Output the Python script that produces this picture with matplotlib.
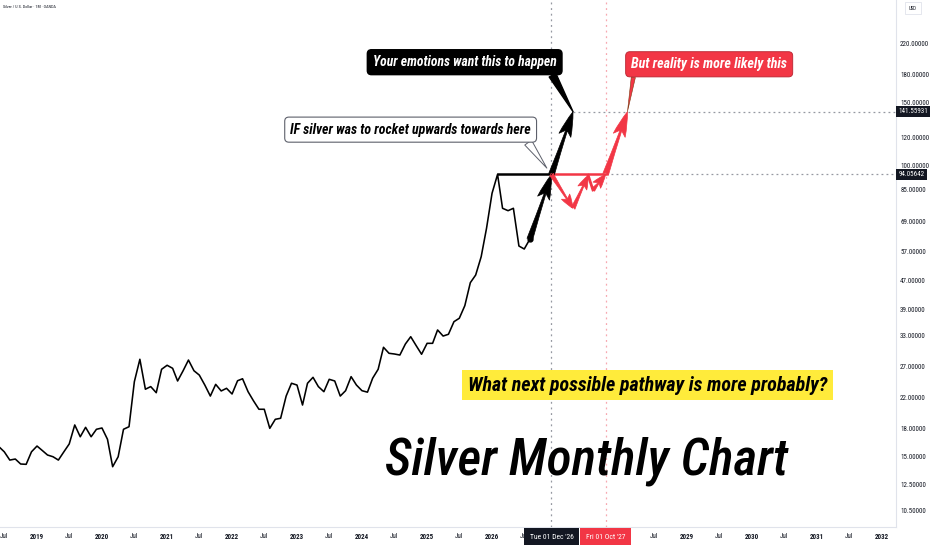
import numpy as np
import pandas as pd
import matplotlib
matplotlib.use('Agg')
import matplotlib.pyplot as plt
import matplotlib.dates as mdates
from matplotlib import font_manager as fm
from matplotlib.patches import FancyArrowPatch
from matplotlib.text import Text
from matplotlib.ticker import NullLocator
from matplotlib.transforms import blended_transform_factory

# monthly closes, Jun 2018 .. Aug 2026
months = pd.date_range('2018-06-01', periods=99, freq='MS')
price = [
    15.96, 15.44, 14.63, 14.73, 14.26, 14.23, 15.44,
    16.03, 15.55, 15.12, 14.95, 14.63, 15.44, 16.25, 18.39, 17.03, 18.11, 17.03, 17.88,
    18.03, 16.75, 14.01, 14.95, 17.88, 18.18, 24.38, 28.21, 23.21, 23.61, 22.69, 26.43,
    27.13, 26.60, 24.49, 26.18, 28.07, 26.18, 25.45, 23.85, 22.20, 23.96, 22.95, 23.35,
    22.50, 24.53, 24.85, 22.84, 21.54, 20.37, 20.37, 17.99, 19.08, 19.21, 22.20, 24.13,
    23.85, 20.94, 24.13, 25.08, 23.61, 22.84, 24.76, 24.49, 22.20, 22.99, 25.19, 23.85,
    22.99, 22.77, 24.93, 26.43, 30.50, 29.33, 29.20, 29.00, 31.16, 32.68, 30.81, 29.15,
    31.30, 31.30, 34.15, 32.82, 33.20, 36.04, 36.85, 40.00, 46.47, 48.84, 55.04, 66.22,
    83.18, 94.06, 75.44, 74.27, 75.44, 59.00, 57.86, 61.65,
]

peak = 94.05642
target = 141.55931
dec26 = pd.Timestamp('2026-12-01')
oct27 = pd.Timestamp('2027-10-01')

emotion_dates = pd.to_datetime(['2026-12-01', '2027-04-01'])
emotion_vals = [peak, target]
reality_dates = pd.to_datetime(['2026-12-01', '2027-04-01', '2027-06-25',
                                '2027-07-22', '2027-10-01', '2028-02-01'])
reality_vals = [peak, 75.4, 93.5, 85.0, peak, target]

ytick_vals = [10.5, 12.5, 15, 18, 22, 27, 33, 39, 47, 57, 69, 85, 100, 120, 150, 180, 220]
# 2027, Jul 2027 and 2028 sit under the date boxes, so they are left out
xtick_dates = [d for d in pd.date_range('2018-07-01', '2032-01-01', freq='6MS')
               if not pd.Timestamp('2026-12-31') < d < pd.Timestamp('2028-06-01')]
xtick_labels = ['Jul' if d.month == 7 else str(d.year) for d in xtick_dates]

RED = '#F23645'
INK = '#131722'

# pick a narrow font if there is one
ttf = fm.fontManager.ttflist
names = {f.name for f in ttf}
NARROW, STRETCH = 'DejaVu Sans', 'normal'
for cand in ['Noto Sans Condensed', 'Liberation Sans Narrow', 'Roboto Condensed', 'Open Sans Condensed']:
    if cand in names:
        NARROW = cand
        break
else:
    if any(f.name == 'DejaVu Sans' and f.stretch == 'condensed' for f in ttf):
        STRETCH = 'condensed'
FONT = dict(family=NARROW, fontstretch=STRETCH)
# title wants a medium weight if the narrow family has one
TITLE_FONT = dict(FONT, fontweight='bold')
if NARROW + ' Medium' in names:
    TITLE_FONT = dict(FONT, family=NARROW + ' Medium', fontweight='normal')
elif any(f.name == NARROW and f.weight in (500, 600, 'medium', 'semibold') for f in ttf):
    TITLE_FONT = dict(FONT, fontweight='medium')

fig = plt.figure(figsize=(9.32, 5.5), dpi=100)
ax = fig.add_axes([0, 23 / 550, 896 / 932, 527 / 550])
r = fig.canvas.get_renderer()


def fit(t, width_px):
    w = Text.get_window_extent(t, renderer=r).width
    t.set_fontsize(t.get_fontsize() * width_px / w)


probe = fig.text(0, 0, '220.00000', fontsize=10, **FONT)
tick_fs = 10 * 29 / Text.get_window_extent(probe, renderer=r).width
probe.remove()

ax.set_yscale('log')
ax.set_ylim(9.46, 293)
ax.set_xlim(pd.Timestamp('2018-06-07'), pd.Timestamp('2032-03-20'))

ax.plot(months, price, color='black', lw=1.15, zorder=4)
ax.plot(months[-1], price[-1], 'o', ms=3.5, color='black', zorder=5)

# reference lines
ipk = int(np.argmax(price))
ax.plot([months[ipk], dec26], [peak, peak], color='black', lw=1.8, zorder=4)
ax.plot([dec26, oct27], [peak, peak], color=RED, lw=1.8, zorder=4)
ax.axvline(dec26, color='#9598a1', ls=(0, (1.5, 3)), lw=0.9, zorder=1)
ax.axvline(oct27, color='#f7a8b0', ls=(0, (1.5, 3)), lw=0.9, zorder=1)
ax.hlines(target, emotion_dates[-1], ax.get_xlim()[1], color='#9598a1', ls=(0, (1.5, 2.5)), lw=0.9)
ax.hlines(peak, oct27, ax.get_xlim()[1], color='#9598a1', ls=(0, (1.5, 2.5)), lw=0.9)


def arrow(d0, v0, d1, v1, color, hl, hw, tw, style='fancy'):
    p = FancyArrowPatch((mdates.date2num(d0), v0), (mdates.date2num(d1), v1),
                        arrowstyle=f'{style},head_length={hl},head_width={hw},tail_width={tw}',
                        mutation_scale=1, color=color, lw=0.5, shrinkA=0, shrinkB=0, zorder=6)
    ax.add_patch(p)


arrow(months[-1], price[-1], dec26, peak, 'black', 18, 9, 4.2)
arrow(emotion_dates[0], emotion_vals[0], emotion_dates[1], emotion_vals[1], 'black', 18, 9, 4.2)
for i in range(len(reality_dates) - 1):
    big = i == len(reality_dates) - 2
    if i == 2:
        ax.plot(reality_dates[i:i + 2], reality_vals[i:i + 2], color=RED, lw=2, zorder=6)
        continue
    arrow(reality_dates[i], reality_vals[i], reality_dates[i + 1], reality_vals[i + 1], RED,
          18 if big else 10, 9 if big else 7, 4.2 if big else 3)

# callouts
t1 = ax.annotate('Your emotions want this to happen', xy=(emotion_dates[1], target),
                 xytext=(0.5186, 0.882), textcoords='axes fraction', ha='center', va='center',
                 color='white', fontsize=11, fontweight='bold', style='italic', **FONT,
                 bbox=dict(boxstyle='round,pad=0.4,rounding_size=0.3', fc='black', ec='black'),
                 arrowprops=dict(arrowstyle='wedge,tail_width=0.55,shrink_factor=0.5', fc='black',
                                 ec='black', relpos=(0.96, 0), shrinkA=0, shrinkB=0, mutation_scale=10),
                 zorder=8)
t2 = ax.annotate('But reality is more likely this', xy=(reality_dates[-1], target),
                 xytext=(0.7915, 0.878), textcoords='axes fraction', ha='center', va='center',
                 color='white', fontsize=11, fontweight='bold', style='italic', **FONT,
                 bbox=dict(boxstyle='round,pad=0.4,rounding_size=0.3', fc=RED, ec='#b8232f', lw=0.6),
                 arrowprops=dict(arrowstyle='wedge,tail_width=0.3,shrink_factor=0.5', fc=RED,
                                 ec='#7a3a10', lw=0.4, relpos=(0.02, 0), shrinkA=0, shrinkB=0,
                                 mutation_scale=10),
                 zorder=8)
t3 = ax.annotate('IF silver was to rocket upwards towards here', xy=(pd.Timestamp('2026-11-05'), 98),
                 xytext=(0.4583, 0.754), textcoords='axes fraction', ha='center', va='center',
                 color='black', fontsize=11, fontweight='bold', style='italic', **FONT,
                 bbox=dict(boxstyle='round,pad=0.4,rounding_size=0.3', fc='white', ec='#5d606b', lw=0.8),
                 arrowprops=dict(arrowstyle='wedge,tail_width=0.6,shrink_factor=0.5', fc='white',
                                 ec='#5d606b', lw=0.7, relpos=(0.97, 0), shrinkA=0, shrinkB=0,
                                 mutation_scale=10),
                 zorder=8)
fit(t1, 184)
fit(t2, 156)
fit(t3, 240)

q = ax.text(0.723, 0.2694, 'What next possible pathway is more probably?', transform=ax.transAxes,
            ha='center', va='center', fontsize=15, fontweight='bold', style='italic', **FONT,
            bbox=dict(boxstyle='square,pad=0.28', fc='#FFEB3B', ec='none'), zorder=8)
fit(q, 362)

title = ax.text(0.6546, 0.0987, 'Silver Monthly Chart', transform=ax.transAxes,
                ha='center', va='baseline', fontsize=40, style='italic', **TITLE_FONT, zorder=8)
fit(title, 403)

# axes styling
for s in ['top', 'left']:
    ax.spines[s].set_visible(False)
for s in ['right', 'bottom']:
    ax.spines[s].set_color('#e0e3eb')
    ax.spines[s].set_linewidth(0.8)

ax.yaxis.tick_right()
ax.set_yticks(ytick_vals)
ax.set_yticklabels([f'{v:.5f}' for v in ytick_vals], fontsize=tick_fs, color=INK, **FONT)
ax.yaxis.set_minor_locator(NullLocator())
ax.tick_params(axis='y', length=0, pad=3)
ax.set_xticks(xtick_dates)
ax.set_xticklabels(xtick_labels, fontsize=tick_fs, color=INK, **FONT)
for lab, txt in zip(ax.get_xticklabels(), xtick_labels):
    if txt != 'Jul':
        lab.set_fontweight('bold')
ax.tick_params(axis='x', length=0, pad=4.5)

right_tr = blended_transform_factory(ax.transAxes, ax.transData)
for v in [target, peak]:
    ax.text(1 + 2.5 / 896, v, f'{v:.5f}', transform=right_tr, ha='left', va='center', color='white',
            fontsize=tick_fs, **FONT, clip_on=False, zorder=10,
            bbox=dict(boxstyle='square,pad=0.3', fc=INK, ec='none'))

bottom_tr = blended_transform_factory(ax.transData, ax.transAxes)
for d, lab, c in [(dec26, "Tue 01 Dec '26", INK), (oct27, "Fri 01 Oct '27", RED)]:
    ax.text(d, -0.0185, lab, transform=bottom_tr, ha='center', va='center', color='white',
            fontsize=tick_fs * 1.1, **FONT, clip_on=False, zorder=10,
            bbox=dict(boxstyle='square,pad=0.7', fc=c, ec='none'))

hdr = fig.text(3 / 932, 1 - 7 / 550, 'Silver / U.S. Dollar · 1M · OANDA', ha='left', va='center',
               fontsize=4, color=INK, **FONT)
fit(hdr, 52)
usd = fig.text(913 / 932, 1 - 8 / 550, 'USD', ha='center', va='center', fontsize=3.5, color=INK, **FONT,
               bbox=dict(boxstyle='square,pad=0.8', fc='white', ec='#e0e3eb', lw=0.6))

fig.savefig('out.png', dpi=100, facecolor='white')
